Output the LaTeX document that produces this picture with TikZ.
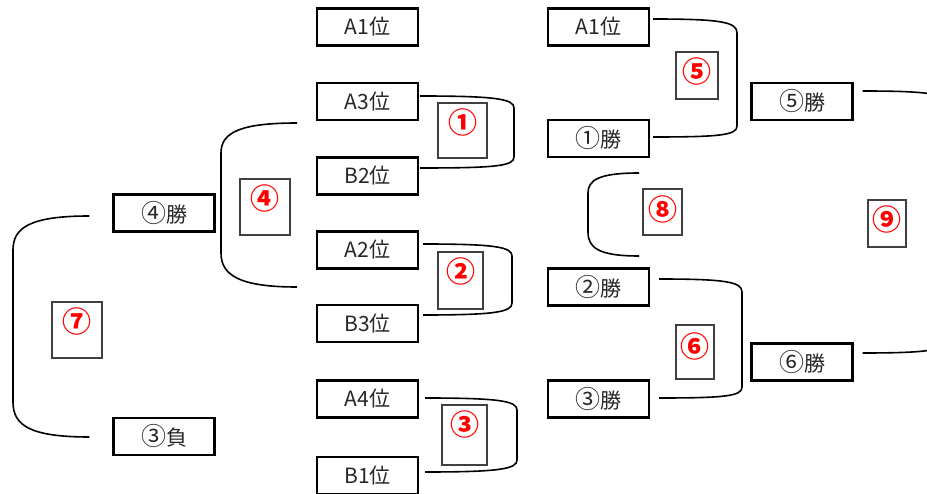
\documentclass[tikz,border=0pt]{standalone}
\usepackage{fontspec}
\setmainfont{Noto Sans CJK JP}
\usetikzlibrary{calc}
\definecolor{txt}{HTML}{262626}
\definecolor{lblgray}{HTML}{404040}
\newcommand\circd[1]{{\fontsize{25}{24}\selectfont #1}}
\begin{document}
\begin{tikzpicture}[x=1pt,y=-1pt,
  team/.style={draw=black, line width=2.4pt, minimum width=101pt, minimum height=37pt,
    inner sep=0pt, text=txt, font=\fontsize{21}{24}\selectfont},
  lblbox/.style={draw=lblgray, line width=1.4pt, inner sep=0pt},
  num/.style={text=red, font=\fontsize{29}{30}\selectfont\bfseries, anchor=center, label distance=-20pt},
  conn/.style={draw=black, line width=1.6pt}]
\useasboundingbox (0,0) rectangle (927,494);
\clip (0,0) rectangle (927,494);
% left column
\node[team] (A1L) at (367.5,27) {A1位};
\node[team] (A3) at (367.5,101.5) {A3位};
\node[team] (B2) at (367.5,176) {B2位};
\node[team] (A2) at (367.5,250) {A2位};
\node[team] (B3) at (367.5,323.5) {B3位};
\node[team] (A4) at (367.5,399) {A4位};
\node[team] (B1) at (367.5,475.5) {B1位};
% far left
\node[team] (W4) at (164,213) {\circd{④}勝};
\node[team] (L3) at (164,436.5) {\circd{③}負};
% third column
\node[team] (A1R) at (598.5,27) {A1位};
\node[team] (W1) at (598.5,138.5) {\circd{①}勝};
\node[team] (W2) at (598.5,287) {\circd{②}勝};
\node[team] (W3) at (598.5,399) {\circd{③}勝};
% fourth column
\node[team] (W5) at (802,101.5) {\circd{⑤}勝};
\node[team] (W6) at (802,362) {\circd{⑥}勝};
% match label boxes
\node[lblbox, minimum width=49pt, minimum height=55pt, label={[num]north:①}] (m1) at (462.5,130.5) {};
\node[lblbox, minimum width=45pt, minimum height=57pt, label={[num]north:②}] (m2) at (460.5,280.5) {};
\node[lblbox, minimum width=45pt, minimum height=60pt, label={[num]north:③}] (m3) at (464.5,435) {};
\node[lblbox, minimum width=50pt, minimum height=56pt, label={[num]north:④}] (m4) at (265,207) {};
\node[lblbox, minimum width=42pt, minimum height=47pt, label={[num]north:⑤}] (m5) at (697,75.5) {};
\node[lblbox, minimum width=38pt, minimum height=54pt, label={[num, label distance=-22pt]north:⑥}] (m6) at (695,352) {};
\node[lblbox, minimum width=50pt, minimum height=56pt, label={[num]north:⑦}] (m7) at (77,330) {};
\node[lblbox, minimum width=39pt, minimum height=46pt, label={[num, label distance=-21pt]north:⑧}] (m8) at (662.5,212) {};
\node[lblbox, minimum width=38pt, minimum height=47pt, label={[num]north:⑨}] (m9) at (887,223.5) {};
% free ends
\coordinate (c4a) at (297,123);
\coordinate (c4b) at (297,287);
\coordinate (c8a) at (639,173);
\coordinate (c8b) at (639,256);
% brackets
\draw[conn] ($(A3.east)+(1,-5.5)$) .. controls +(76,0) and +(0,-9) .. (514,108) -- (514,157) .. controls +(0,9) and +(76,0) .. ($(B2.east)+(1,-8)$);
\draw[conn] ($(A2.east)+(4,-6)$) .. controls +(72,0) and +(0,-9) .. (512,256) -- (512,303) .. controls +(0,9) and +(72,0) .. ($(B3.east)+(4,-8.5)$);
\draw[conn] ($(A4.east)+(6,-1)$) .. controls +(74,0) and +(0,-9) .. (517,410) -- (517,460) .. controls +(0,9) and +(74,0) .. ($(B1.east)+(6,-3.5)$);
\draw[conn] ($(A1R.east)+(3,-8)$) .. controls +(68,0) and +(0,-11) .. (737,33) -- (737,126) .. controls +(0,9) and +(68,0) .. ($(W1.east)+(3,-1.5)$);
\draw[conn] ($(W2.east)+(9,-8)$) .. controls +(67,0) and +(0,-10) .. (742,292) -- (742,387) .. controls +(0,9) and +(67,0) .. ($(W3.east)+(9,-1)$);
\draw[conn] ($(W5.east)+(9,-10.5)$) .. controls +(68,0) and +(0,-11) .. (947,105) -- (947,339) .. controls +(0,11) and +(68,0) .. ($(W6.east)+(9,-9)$);
\draw[conn] (c4a) .. controls +(-58,0) and +(0,-20) .. (221,153) -- (221,253) .. controls +(0,22) and +(-58,0) .. (c4b);
\draw[conn] ($(W4.west)+(-23,3)$) .. controls +(-60,0) and +(0,-22) .. (13,250) -- (13,402) .. controls +(0,23) and +(-60,0) .. ($(L3.west)+(-23,0.5)$);
\draw[conn] (c8a) .. controls +(-40,0) and +(0,-13) .. (588,193) -- (588,232) .. controls +(0,16) and +(-40,0) .. (c8b);
\end{tikzpicture}
\end{document}
